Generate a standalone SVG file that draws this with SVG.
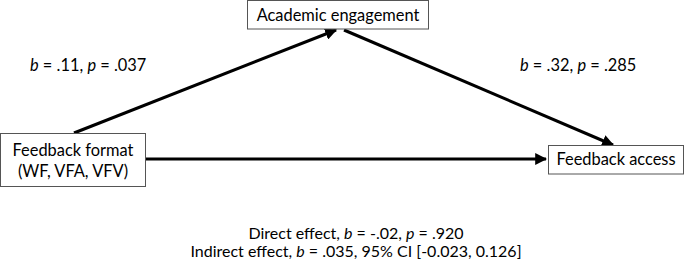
<svg xmlns="http://www.w3.org/2000/svg" width="685" height="263" viewBox="0 0 685 263">
<style>
text{font-family:Lato,"Open Sans","Liberation Sans",sans-serif;font-size:16.4px;fill:#000}
.box{fill:#fff;stroke:#555;stroke-width:1}
.c{stroke:#000;stroke-width:3;fill:none;marker-end:url(#ah)}
.m{text-anchor:middle}
.s{font-size:16px}
</style>
<defs>
<marker id="ah" viewBox="0 0 10 10" refX="9" refY="5" markerWidth="4" markerHeight="4" orient="auto" markerUnits="strokeWidth">
<path d="M0,0 L10,5 L0,10 Z" fill="#000"/>
</marker>
</defs>
<rect width="685" height="263" fill="#fff"/>
<g id="connectors">
<line class="c" x1="74" y1="133" x2="336" y2="30"/>
<line class="c" x1="344" y1="30" x2="613" y2="145"/>
<line class="c" x1="146" y1="159" x2="546" y2="159"/>
</g>
<g id="academic-engagement">
<rect class="box" x="247.5" y="0.5" width="181" height="28.5"/>
<text class="m" x="338" y="21">Academic engagement</text>
</g>
<g id="feedback-format">
<rect class="box" x="0.5" y="133.5" width="145" height="53"/>
<text class="m" x="73" y="156">Feedback format</text>
<text class="m" x="73" y="177">(WF, VFA, VFV)</text>
</g>
<g id="feedback-access">
<rect class="box" x="548.5" y="145.5" width="135" height="28.5"/>
<text class="m" x="616" y="165">Feedback access</text>
</g>
<g id="labels">
<text x="30" y="71"><tspan font-style="italic">b</tspan> = .11, <tspan font-style="italic">p</tspan> = .037</text>
<text x="520" y="71"><tspan font-style="italic">b</tspan> = .32, <tspan font-style="italic">p</tspan> = .285</text>
<text class="m s" x="356" y="239">Direct effect, <tspan font-style="italic">b</tspan> = -.02, <tspan font-style="italic">p</tspan> = .920</text>
<text class="m s" x="356" y="257">Indirect effect, <tspan font-style="italic">b</tspan> = .035, 95% CI [-0.023, 0.126]</text>
</g>
</svg>
